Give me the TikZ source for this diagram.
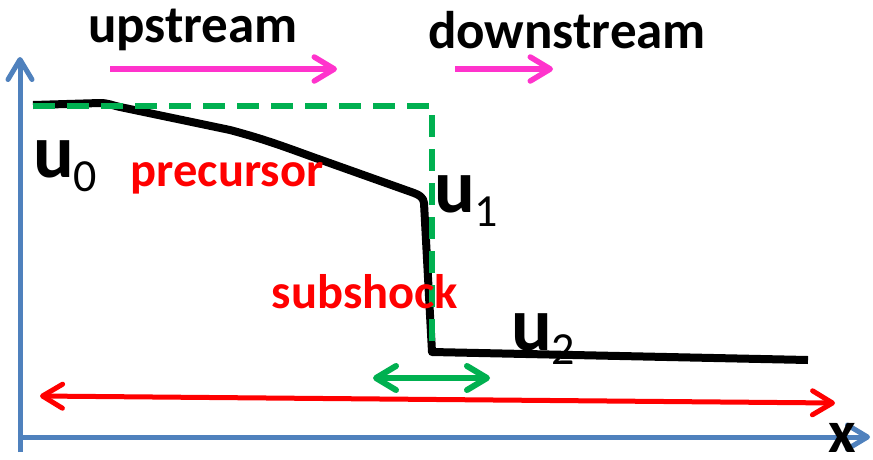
\documentclass[tikz,border=0pt]{standalone}
\usepackage{fontspec}
\setmainfont{Carlito}
\usetikzlibrary{arrows.meta}
\definecolor{axblue}{RGB}{79,129,189}
\definecolor{dgreen}{RGB}{0,176,80}
\definecolor{pinkc}{RGB}{255,51,204}
\tikzset{
  barb/.style={-{Straight Barb[length=20pt,width=24pt,round]}},
  dbarb/.style={{Straight Barb[length=20pt,width=24pt,round]}-{Straight Barb[length=20pt,width=24pt,round]}},
  big/.style={font=\bfseries\fontsize{53}{60}\selectfont, inner sep=0pt},
  redtxt/.style={text=red, font=\bfseries\fontsize{48.5}{54}\selectfont, inner sep=0pt},
  ulab/.style={inner sep=0pt, anchor=base west},
}
\newcommand{\ulabel}[1]{{\bfseries\fontsize{76}{86}\selectfont u}\raisebox{-14pt}{\fontsize{46}{52}\selectfont #1}}
\begin{document}
\begin{tikzpicture}[x=1pt,y=-1pt]
\useasboundingbox[fill=white] (0,0) rectangle (873,459);
% axes
\coordinate (o) at (20,437);
\coordinate (ytop) at (20,57);
\coordinate (ybot) at (20,452);
\coordinate (xr) at (870,437);
\draw[axblue, line width=5pt, barb] (ybot) -- (ytop);
\draw[axblue, line width=5pt, barb] (o) -- (xr);
% black curve
\coordinate (c0) at (33,105);
\coordinate (c1) at (100,103);
\coordinate (c2) at (120,107);
\coordinate (c3) at (230,130);
\coordinate (c4) at (310,156);
\coordinate (c5) at (414,193);
\coordinate (c6) at (424,203);
\coordinate (c7) at (432,352);
\coordinate (c8) at (808,360);
\draw[black, line width=8pt, line join=round] (c0) -- (c1) to[out=0,in=168] (c2) -- (c3) to[out=-15,in=160] (c4) -- (c5) to[out=-20,in=95] (c6) -- (c7) -- (c8);
% green dashed
\coordinate (g0) at (33,106);
\coordinate (g1) at (432,106);
\coordinate (g2) at (432,352);
\draw[dgreen, line width=6pt, dash pattern=on 22pt off 12pt] (g0) -- (g1) -- (g2);
% pink arrows
\coordinate (p0) at (110,69);
\coordinate (p1) at (337,69);
\coordinate (p2) at (455,69);
\coordinate (p3) at (553,69);
\draw[pinkc, line width=5.5pt, barb] (p0) -- (p1);
\draw[pinkc, line width=5.5pt, barb] (p2) -- (p3);
% green double arrow
\coordinate (d0) at (373,378);
\coordinate (d1) at (490,378);
\draw[dgreen, line width=6pt, dbarb] (d0) -- (d1);
% red double arrow
\coordinate (r0) at (40,396);
\coordinate (r1) at (835,403);
\draw[red, line width=5pt, dbarb] (r0) -- (r1);
% texts
\node[big] (up) at (193,30) {upstream};
\node[big] (down) at (567,30) {downstream};
\node[redtxt] (prec) at (227,178) {precursor};
\node[redtxt] (sub) at (365,292) {subshock};
\node[ulab] (u0) at (33,177) {\ulabel{0}};
\node[ulab] (u1) at (434,212) {\ulabel{1}};
\node[ulab] (u2) at (511,350) {\ulabel{2}};
\node[inner sep=0pt, font=\bfseries\fontsize{60}{66}\selectfont, anchor=base] (xl) at (842,452) {x};
\end{tikzpicture}
\end{document}
